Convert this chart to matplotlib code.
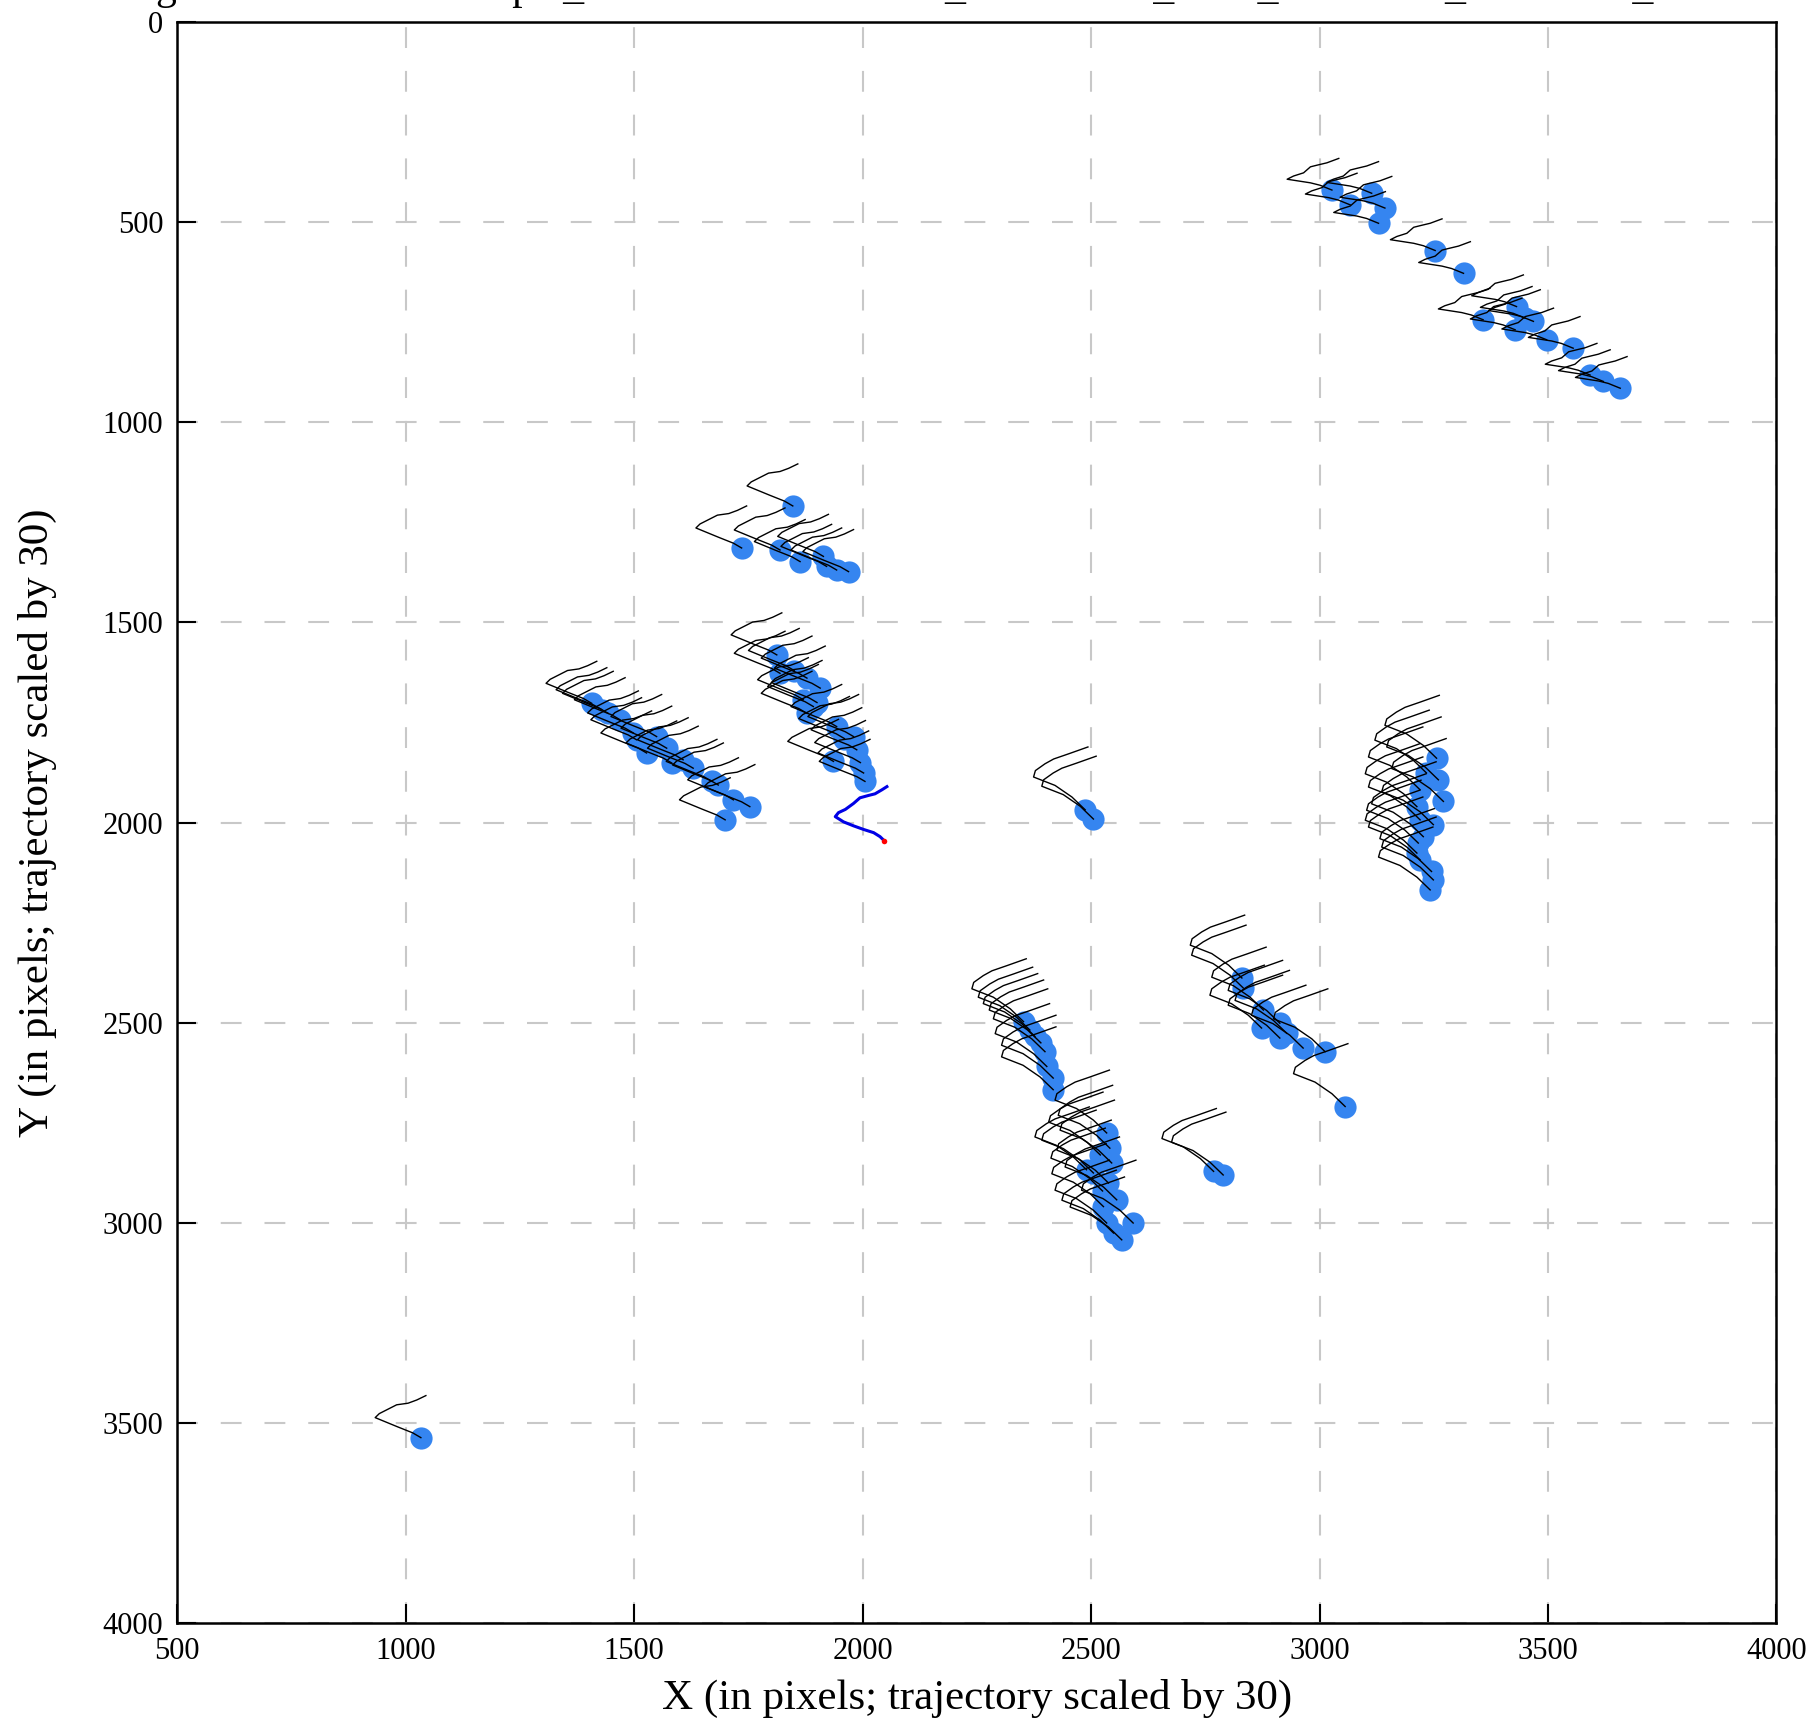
import matplotlib
matplotlib.use("Agg")
import matplotlib.pyplot as plt

plt.rcParams['font.family'] = ['Liberation Serif', 'DejaVu Serif']

# agent positions (pixels), by group on the map
ne_x = [3027, 3067, 3114, 3143, 3129, 3253, 3315, 3358, 3431, 3428, 3450, 3468, 3497, 3555, 3592, 3621, 3658]
ne_y = [420, 457, 428, 465, 503, 571, 628, 744, 711, 769, 740, 748, 794, 815, 882, 898, 915]

um_x = [1847, 1735, 1819, 1863, 1914, 1921, 1943, 1969]
um_y = [1209, 1314, 1319, 1348, 1335, 1360, 1369, 1373]

left_x = [1407, 1429, 1443, 1469, 1498, 1505, 1527, 1549, 1571, 1582, 1607, 1629, 1670, 1684, 1717, 1753, 1699]
left_y = [1702, 1718, 1727, 1743, 1776, 1793, 1826, 1785, 1814, 1851, 1843, 1864, 1897, 1906, 1943, 1960, 1993]

mid_x = [1812, 1819, 1850, 1878, 1907, 1870, 1892, 1900, 1878, 1943, 1980, 1960, 1987, 1936, 1995, 2002, 2005]
mid_y = [1581, 1627, 1620, 1639, 1664, 1693, 1710, 1700, 1727, 1760, 1785, 1790, 1818, 1847, 1850, 1876, 1897]

pair_x = [2487, 2505]
pair_y = [1968, 1991]

bl_x = [1033]
bl_y = [3536]

vert_x = [3256, 3234, 3260, 3220, 3271, 3213, 3220, 3249, 3216, 3227, 3213, 3220, 3245, 3249, 3242]
vert_y = [1839, 1876, 1893, 1918, 1947, 1960, 1993, 2005, 2051, 2035, 2076, 2093, 2122, 2143, 2168]

d_x = [2352, 2366, 2377, 2390, 2399, 2403, 2417, 2417]
d_y = [2497, 2518, 2534, 2550, 2572, 2609, 2638, 2667]

e_x = [2534, 2541, 2520, 2545, 2490, 2505, 2538, 2525, 2556, 2527, 2534, 2592, 2549, 2567]
e_y = [2775, 2813, 2830, 2850, 2867, 2875, 2900, 2920, 2942, 2959, 3000, 3000, 3025, 3042]

f_x = [2830, 2833, 2877, 2873, 2913, 2913, 2928, 2964, 3012, 3056]
f_y = [2388, 2413, 2468, 2513, 2501, 2538, 2526, 2563, 2572, 2709]

g_x = [2768, 2789]
g_y = [2871, 2880]

# trajectory shapes (offset from the agent, already x30)
flat_dx = [0, -26, -47, -98, -84, -62, -47, -33, -11, 15]
flat_dy = [0, -12, -18, -27, -35, -43, -58, -62, -68, -79]
mid_dx = [0, -18, -51, -100, -91, -72, -53, -28, -9, 11]
mid_dy = [0, -12, -27, -50, -60, -71, -82, -86, -94, -105]
steep_dx = [0, -29, -66, -113, -109, -88, -69, -36, 6]
steep_dy = [0, -32, -61, -82, -98, -115, -127, -140, -157]

# ego
ego_x, ego_y = 2047, 2045
ego_dx = [0, -9, -23, -45, -67, -89, -107, -100, -85, -67, -53, -34, -20, -5, 6]
ego_dy = [0, -10, -20, -28, -37, -47, -60, -70, -78, -93, -107, -113, -117, -127, -135]

groups = [
    (ne_x, ne_y, flat_dx, flat_dy),
    (um_x, um_y, mid_dx, mid_dy),
    (left_x, left_y, mid_dx, mid_dy),
    (mid_x, mid_y, mid_dx, mid_dy),
    (bl_x, bl_y, mid_dx, mid_dy),
    (pair_x, pair_y, steep_dx, steep_dy),
    (vert_x, vert_y, steep_dx, steep_dy),
    (d_x, d_y, steep_dx, steep_dy),
    (e_x, e_y, steep_dx, steep_dy),
    (f_x, f_y, steep_dx, steep_dy),
    (g_x, g_y, steep_dx, steep_dy),
]

# title runs off the top of the image, as in the original
title = "Agent states in the sample_7c1a0e5b94d2f83610_408162539_9172_35084619_62730418_5"

fig = plt.figure(figsize=(18.17, 17.23), dpi=100)
ax = fig.add_axes([0.0976, 0.0578, 0.8801, 0.9295])

for xs, ys, dx, dy in groups:
    ax.plot(xs, ys, 'o', color='#3585f0', markersize=16, markeredgewidth=0, zorder=2)
    for x0, y0 in zip(xs, ys):
        ax.plot([x0 + v for v in dx], [y0 + v for v in dy], color='black', lw=1.0, zorder=3)

ax.plot([ego_x + v for v in ego_dx], [ego_y + v for v in ego_dy], color='#0000e6', lw=2.2, zorder=4)
ax.plot(ego_x, ego_y, 'o', color='red', markersize=4, markeredgewidth=0, zorder=5)

ax.set_xlim(500, 4000)
ax.set_ylim(4000, 0)
ax.set_xticks(range(500, 4001, 500))
ax.set_yticks(range(0, 4001, 500))
ax.grid(True, color='#c8c8c8', linestyle=(0, (10, 11)), linewidth=1.5, zorder=0)
ax.set_axisbelow(True)
ax.tick_params(direction='in', length=14, width=1.5, labelsize=22, pad=10)
for s in ax.spines.values():
    s.set_linewidth(1.8)

ax.set_xlabel("X (in pixels; trajectory scaled by 30)", fontsize=31, labelpad=9)
ax.set_ylabel("Y (in pixels; trajectory scaled by 30)", fontsize=31, labelpad=33)
fig.text(0.0693, 1.0 + 1.5 / 1723, title, fontsize=30, ha='left', va='baseline')

fig.savefig("out.png", dpi=100)
